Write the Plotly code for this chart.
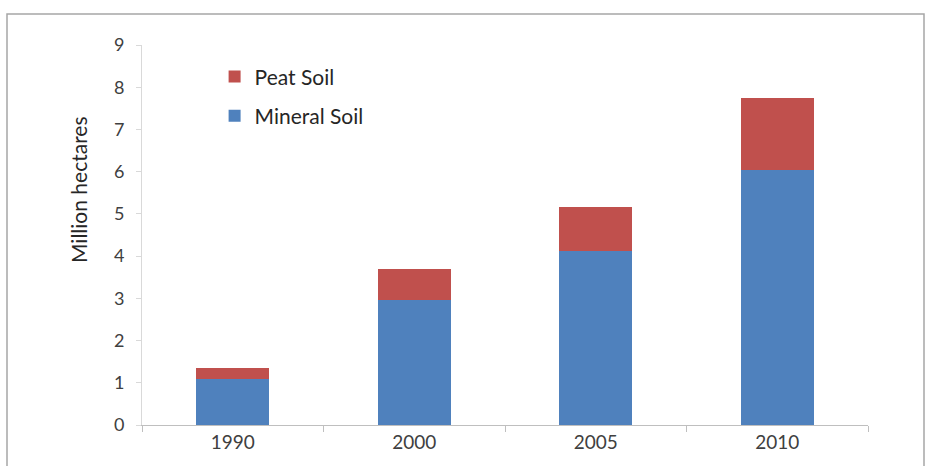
import plotly.graph_objects as go

years = ["1990", "2000", "2005", "2010"]
mineral = [1.08, 2.96, 4.11, 6.03]
peat = [0.28, 0.73, 1.06, 1.71]

FONT = "Lato, 'Open Sans', sans-serif"
TXT = "#404040"

fig = go.Figure()
fig.add_trace(go.Bar(x=years, y=mineral, name="Mineral Soil", marker_color="#4F81BD",
                     marker_line_width=0, width=0.4, legendgroup="m", legendrank=2))
fig.add_trace(go.Bar(x=years, y=peat, name="Peat Soil", marker_color="#C0504D",
                     marker_line_width=0, width=0.4, legendgroup="p", legendrank=1))

fig.update_layout(
    barmode="stack",
    width=928, height=466,
    margin=dict(l=142, r=60, t=45, b=41),
    paper_bgcolor="white", plot_bgcolor="white",
    font=dict(family=FONT, color=TXT, size=18),
    showlegend=True,
    legend=dict(x=0.1, y=0.97, xanchor="left", yanchor="top",
                traceorder="grouped", tracegroupgap=9,
                font=dict(size=21, color="#262626"), bgcolor="rgba(0,0,0,0)",
                itemwidth=30),
    xaxis=dict(showline=True, linecolor="#BFBFBF", linewidth=1,
               ticks="outside", tickson="boundaries", ticklen=6, tickcolor="#BFBFBF",
               tickfont=dict(size=19, color=TXT), showgrid=False),
    yaxis=dict(range=[0, 9], dtick=1, showline=True, linecolor="#D9D9D9", linewidth=1,
               ticks="outside", ticklen=5, tickcolor="#D9D9D9", showgrid=False,
               ticklabelstandoff=8,
               zeroline=False, tickfont=dict(size=18, color=TXT)),
    annotations=[dict(text="Million hectares", textangle=-90, showarrow=False,
                      xref="paper", yref="paper",
                      x=(78 - 142) / 726, y=(425 - 190) / 380,
                      xanchor="center", yanchor="middle",
                      font=dict(size=21, color="#262626"))],
    shapes=[dict(type="rect", xref="paper", yref="paper",
                 x0=(7 - 142) / 726, x1=(924 - 142) / 726,
                 y0=(425 - 475) / 380, y1=(425 - 14) / 380,
                 line=dict(color="#A6A6A6", width=1.5), fillcolor="rgba(0,0,0,0)", layer="below")],
)

fig.write_html("out.html")
